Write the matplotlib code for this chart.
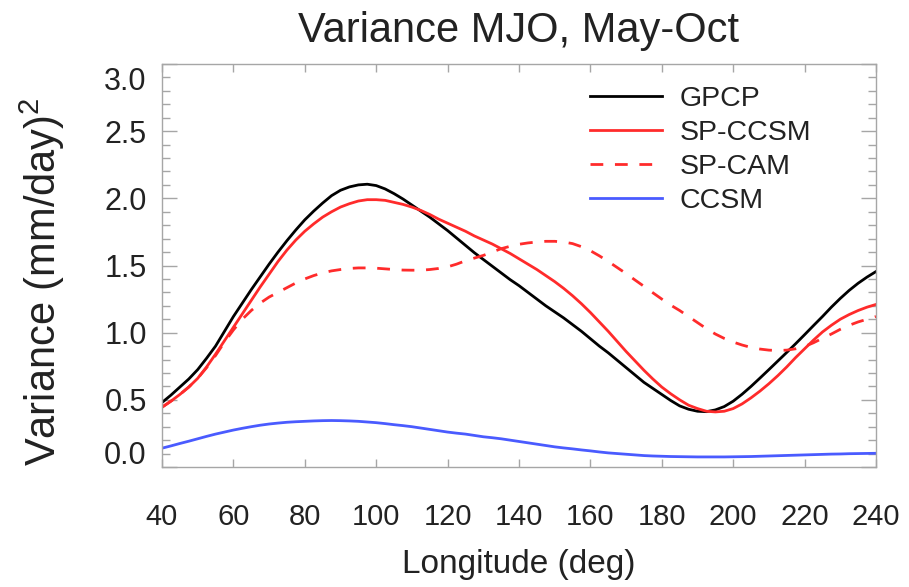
import matplotlib
matplotlib.use("Agg")
import numpy as np
import matplotlib.pyplot as plt
import matplotlib.transforms as mtransforms
from matplotlib.ticker import MultipleLocator

plt.rcParams['font.family'] = ['Liberation Sans', 'DejaVu Sans']
plt.rcParams['mathtext.fontset'] = 'custom'
plt.rcParams['mathtext.rm'] = 'Liberation Sans'
plt.rcParams['mathtext.it'] = 'Liberation Sans'

# longitude grid, 40..240 every 2.5 deg
lon = np.arange(40, 240.01, 2.5)

gpcp = [0.48, 0.535, 0.595, 0.655, 0.725, 0.81, 0.90, 1.01, 1.12, 1.22,
        1.32, 1.415, 1.51, 1.60, 1.685, 1.765, 1.84, 1.905, 1.965, 2.02,
        2.06, 2.085, 2.10, 2.105, 2.095, 2.07, 2.035, 1.995, 1.95, 1.905,
        1.86, 1.81, 1.76, 1.705, 1.65, 1.595, 1.545, 1.495, 1.445, 1.395,
        1.35, 1.30, 1.25, 1.20, 1.155, 1.11, 1.06, 1.01, 0.955, 0.90,
        0.85, 0.795, 0.74, 0.685, 0.63, 0.585, 0.54, 0.495, 0.455, 0.43,
        0.415, 0.412, 0.425, 0.45, 0.49, 0.542, 0.60, 0.662, 0.725, 0.789,
        0.853, 0.918, 0.985, 1.053, 1.12, 1.19, 1.255, 1.315, 1.368, 1.414,
        1.455]

sp_ccsm = [0.445, 0.49, 0.54, 0.595, 0.66, 0.745, 0.84, 0.94, 1.04, 1.14,
           1.24, 1.34, 1.435, 1.53, 1.615, 1.69, 1.755, 1.81, 1.86, 1.90,
           1.935, 1.96, 1.98, 1.99, 1.99, 1.985, 1.97, 1.955, 1.935, 1.91,
           1.88, 1.845, 1.815, 1.785, 1.755, 1.72, 1.69, 1.66, 1.625, 1.59,
           1.55, 1.51, 1.47, 1.425, 1.38, 1.33, 1.275, 1.215, 1.15, 1.08,
           1.01, 0.935, 0.86, 0.79, 0.72, 0.655, 0.595, 0.545, 0.50, 0.46,
           0.435, 0.415, 0.41, 0.415, 0.435, 0.47, 0.515, 0.565, 0.62, 0.68,
           0.745, 0.815, 0.88, 0.945, 1.005, 1.055, 1.10, 1.135, 1.165, 1.19,
           1.21]

sp_cam = [0.445, 0.49, 0.54, 0.595, 0.66, 0.74, 0.83, 0.93, 1.02, 1.10,
          1.165, 1.22, 1.265, 1.30, 1.335, 1.37, 1.40, 1.425, 1.445, 1.46,
          1.47, 1.478, 1.482, 1.482, 1.48, 1.475, 1.47, 1.466, 1.465, 1.465,
          1.47, 1.478, 1.49, 1.51, 1.535, 1.555, 1.575, 1.60, 1.625, 1.643,
          1.658, 1.668, 1.675, 1.68, 1.68, 1.675, 1.663, 1.64, 1.61, 1.572,
          1.53, 1.485, 1.44, 1.392, 1.345, 1.297, 1.25, 1.205, 1.165, 1.12,
          1.075, 1.03, 0.99, 0.957, 0.93, 0.908, 0.89, 0.878, 0.87, 0.867,
          0.87, 0.88, 0.897, 0.925, 0.958, 0.99, 1.025, 1.055, 1.08, 1.10,
          1.12]

ccsm = [0.14, 0.157, 0.175, 0.192, 0.21, 0.228, 0.245, 0.26, 0.275, 0.288,
        0.30, 0.311, 0.32, 0.327, 0.333, 0.337, 0.34, 0.343, 0.345, 0.346,
        0.345, 0.343, 0.34, 0.335, 0.33, 0.323, 0.315, 0.308, 0.30, 0.29,
        0.28, 0.27, 0.26, 0.252, 0.245, 0.235, 0.225, 0.218, 0.21, 0.20,
        0.19, 0.18, 0.17, 0.16, 0.15, 0.142, 0.135, 0.127, 0.12, 0.112,
        0.105, 0.10, 0.095, 0.09, 0.085, 0.082, 0.08, 0.078, 0.077, 0.076,
        0.075, 0.075, 0.075, 0.075, 0.076, 0.077, 0.078, 0.08, 0.082, 0.084,
        0.086, 0.088, 0.09, 0.092, 0.094, 0.096, 0.097, 0.099, 0.10, 0.101,
        0.102]

labels = ["GPCP", "SP-CCSM", "SP-CAM", "CCSM"]
xticks = [40, 60, 80, 100, 120, 140, 160, 180, 200, 220, 240]
yticks = [0.0, 0.5, 1.0, 1.5, 2.0, 2.5, 3.0]

fig = plt.figure(figsize=(9.09, 5.87), dpi=100)
ax = fig.add_axes([162/909, 1 - 467/587, (876-162)/909, (467-64)/587])

red = '#ff2b2b'
blue = '#4a5bff'
lw = 2.0
ax.plot(lon, gpcp, color='black', lw=lw, label=labels[0])
ax.plot(lon, sp_ccsm, color=red, lw=lw, label=labels[1])
ax.plot(lon, sp_cam, color=red, lw=lw, dashes=(4.6, 4.2), label=labels[2])
ax.plot(lon, ccsm, color=blue, lw=lw, label=labels[3])

ax.set_xlim(40, 240)
ax.set_ylim(0, 3.0)
ax.set_xticks(xticks)
ax.set_xticklabels([str(v) for v in xticks])
ax.set_yticks(yticks)
ax.set_yticklabels([f"{v:.1f}" for v in yticks])
ax.yaxis.set_minor_locator(MultipleLocator(0.1))

spine_c = '#a6a6a6'
for s in ax.spines.values():
    s.set_color(spine_c)
    s.set_linewidth(1.0)

ax.tick_params(axis='x', which='major', direction='in', length=5.8, width=1.0,
               color=spine_c, top=True, bottom=True, labelsize=21,
               labelcolor='#222222', pad=26)
ax.tick_params(axis='y', which='major', direction='in', length=10.8, width=1.0,
               color=spine_c, left=True, right=True, labelsize=22,
               labelcolor='#222222', pad=11)
ax.tick_params(axis='y', which='minor', direction='in', length=5.5, width=1.0,
               color=spine_c, left=True, right=True)

# end labels sit inward from the axis ends, as in the reference
ylabs = ax.get_yticklabels()
ylabs[-1].set_transform(ylabs[-1].get_transform() +
                        mtransforms.ScaledTranslation(0, -14/100, fig.dpi_scale_trans))
ylabs[0].set_transform(ylabs[0].get_transform() +
                       mtransforms.ScaledTranslation(0, 14/100, fig.dpi_scale_trans))

ax.set_xlabel("Longitude (deg)", fontsize=24, color='#222222')
ax.xaxis.label.set_va('center')
ax.xaxis.set_label_coords(0.5, (467 - 565) / 403)

ax.set_ylabel("Variance (mm/day)$^2$", fontsize=30, color='#222222')
ax.yaxis.label.set_va('center')
ax.yaxis.set_label_coords((42 - 162) / 714, (467 - 282) / 403)

fig.text(519/909, 1 - 31/587, "Variance MJO, May-Oct", fontsize=30,
         ha='center', va='center', color='#222222')

leg = ax.legend(loc='upper left', bbox_to_anchor=((590 - 162) / 714, (467 - 86) / 403),
                frameon=False, fontsize=20.5, handlelength=2.53, handletextpad=0.63,
                labelspacing=0.28, borderpad=0, borderaxespad=0)
for t in leg.get_texts():
    t.set_color('#222222')

fig.savefig("out.png", dpi=100)
